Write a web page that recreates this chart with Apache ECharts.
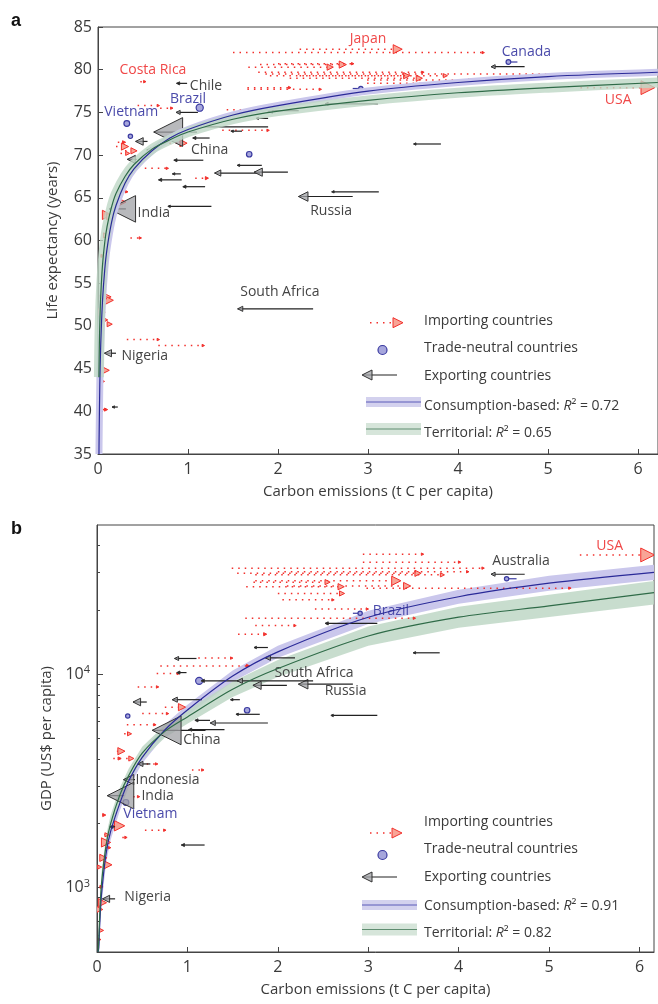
<!DOCTYPE html>
<html>
<head>
<meta charset="utf-8">
<script src="https://cdn.jsdelivr.net/npm/echarts@6/dist/echarts.min.js"></script>
<style>
html, body { margin: 0; padding: 0; background: #fff; }
#chart { width: 658px; height: 1004px; }
</style>
</head>
<body>
<div id="chart"></div>
<script>
// panel a: life expectancy; rows are [territorial, consumption, years, population (M)]
const importA = [
    [2.24, 3.33, 82.4, 127], [1.50, 4.28, 82.0, 5], [1.67, 2.58, 80.3, 60], [1.80, 2.72, 80.6, 80],
    [2.00, 2.83, 80.7, 6], [1.78, 3.61, 79.7, 6], [1.86, 5.27, 79.5, 5], [1.91, 3.43, 79.3, 60],
    [2.13, 3.57, 79.0, 60], [2.24, 3.86, 79.3, 26], [2.99, 4.13, 78.8, 6], [2.99, 4.02, 78.4, 6],
    [1.66, 2.47, 77.7, 6], [1.66, 2.13, 77.9, 10], [5.36, 6.11, 77.9, 300],
    [0.47, 0.52, 78.6, 5], [0.44, 0.67, 75.8, 5], [0.69, 0.82, 75.5, 5], [1.43, 1.67, 75.3, 6],
    [1.38, 1.89, 72.9, 6], [0.72, 0.95, 71.4, 80], [0.20, 0.30, 71.0, 80], [0.30, 0.40, 70.5, 59],
    [0.25, 0.33, 70.2, 26], [0.22, 0.29, 71.5, 15], [0.52, 0.77, 68.45, 6], [1.08, 1.21, 67.3, 15],
    [0.30, 0.32, 65.7, 6], [0.22, 0.26, 64.5, 133], [0.07, 0.10, 63.0, 133], [0.09, 0.13, 62.8, 60],
    [0.15, 0.17, 62.3, 6], [0.06, 0.09, 60.6, 41], [0.36, 0.47, 60.3, 6], [0.04, 0.05, 58.2, 15],
    [0.08, 0.10, 57.7, 6], [0.07, 0.10, 53.4, 105], [0.08, 0.12, 53.0, 130], [0.03, 0.06, 53.2, 80],
    [0.02, 0.04, 51.6, 80], [0.05, 0.08, 50.7, 41], [0.10, 0.13, 50.2, 41], [0.02, 0.04, 49.1, 26],
    [0.32, 0.67, 48.4, 6], [0.67, 1.17, 47.7, 6], [0.03, 0.05, 46.1, 6], [0.05, 0.08, 44.8, 105],
    [0.03, 0.05, 43.5, 26], [0.05, 0.09, 40.2, 15]
];
const exportA = [
    [0.99, 0.89, 78.4, 15], [2.23, 1.91, 75.2, 41], [1.11, 0.89, 75.0, 26], [1.89, 1.77, 74.3, 6],
    [1.89, 1.05, 73.3, 26], [1.10, 0.78, 72.7, 1300], [1.24, 1.07, 72.0, 15], [1.60, 1.49, 72.8, 6],
    [1.17, 0.86, 69.4, 15], [1.82, 1.56, 68.8, 6], [1.80, 1.33, 67.9, 60], [2.11, 1.78, 68.0, 105],
    [0.92, 0.84, 67.8, 2], [0.93, 0.69, 67.1, 15], [1.19, 0.96, 66.3, 15], [1.26, 0.79, 64.0, 2],
    [2.83, 2.28, 65.15, 142], [3.12, 2.61, 65.7, 6], [3.81, 3.52, 71.3, 2], [3.11, 2.54, 76.0, 15],
    [4.74, 4.39, 80.35, 26], [0.31, 0.27, 63.7, 1100], [0.20, 0.11, 46.8, 80], [2.39, 1.58, 52.0, 41],
    [0.22, 0.17, 40.5, 6], [0.55, 0.46, 71.6, 90], [0.63, 0.57, 70.6, 40], [0.43, 0.37, 69.5, 100]
];
const neutralA = [
    [4.66, 4.56, 80.9, 33], [2.83, 2.92, 77.8, 20], [1.13, 1.13, 75.55, 190],
    [0.32, 0.32, 73.7, 85], [0.36, 0.36, 72.2, 20], [1.68, 1.68, 70.1, 70]
];
const consCurveA = [
    [0.0107, 35], [0.012, 36.6], [0.02, 43.1], [0.03, 47.7], [0.05, 52.9], [0.075, 56.6], [0.1, 59.0],
    [0.15, 62.1], [0.2, 64.1], [0.3, 66.7], [0.4, 68.4], [0.6, 70.5], [0.8, 72.0], [1, 73.0],
    [1.5, 74.7], [2, 75.8], [3, 77.5], [4, 78.5], [5, 79.2], [6.22, 79.7]
];
const terrCurveA = [
    [0.01, 44.0], [0.015, 47.8], [0.02, 50.2], [0.03, 53.4], [0.05, 57.1], [0.075, 59.8], [0.1, 61.6],
    [0.15, 63.9], [0.2, 65.5], [0.3, 67.5], [0.4, 68.9], [0.6, 70.7], [0.8, 71.8], [1, 72.7],
    [1.5, 74.2], [2, 75.15], [3, 76.4], [4, 77.3], [5, 77.9], [6.22, 78.5]
];
const labelsA = [
    ['Japan', 3.0, 83.6, 'imp'], ['Canada', 4.76, 82.1, 'neu'], ['USA', 5.78, 76.5, 'imp'],
    ['Costa Rica', 0.61, 80.0, 'imp'], ['Chile', 1.2, 78.1, 'exp'], ['Brazil', 1.0, 76.6, 'neu'],
    ['Vietnam', 0.37, 75.05, 'neu'], ['China', 1.24, 70.6, 'exp'], ['India', 0.62, 63.2, 'exp'],
    ['Russia', 2.59, 63.45, 'exp'], ['South Africa', 2.02, 54.0, 'exp'], ['Nigeria', 0.52, 46.5, 'exp']
];

// panel b: GDP per capita; rows are [territorial, consumption, US$, population (M)]
const importB = [
    [5.34, 6.09, 36200, 300], [2.94, 3.60, 36500, 6], [2.94, 4.01, 33500, 6], [1.49, 4.27, 31400, 6],
    [1.55, 3.55, 29700, 60], [1.75, 3.82, 29200, 26], [2.00, 4.10, 30200, 6], [1.75, 3.31, 27400, 133],
    [2.10, 3.43, 25900, 80], [1.73, 2.55, 27000, 41], [1.65, 2.70, 25700, 60], [2.00, 2.71, 23900, 41],
    [2.98, 5.23, 25300, 6], [2.05, 2.61, 22300, 6], [2.41, 2.99, 20200, 6], [1.64, 3.51, 18300, 6],
    [1.75, 2.19, 16900, 6], [1.56, 1.86, 15400, 15], [1.12, 1.49, 11900, 6], [0.70, 1.67, 10940, 15],
    [0.66, 0.90, 10080, 6], [0.45, 0.67, 8720, 6], [0.75, 0.94, 7010, 80], [0.50, 0.78, 6540, 6],
    [0.33, 0.64, 5800, 6], [0.30, 0.36, 5260, 26], [0.22, 0.27, 4360, 80], [0.25, 0.38, 4030, 41],
    [0.18, 0.25, 4030, 15], [0.55, 0.66, 3800, 6], [1.05, 1.17, 3560, 6], [0.40, 0.46, 2670, 6],
    [0.06, 0.08, 2190, 15], [0.18, 0.25, 1950, 165], [0.53, 0.75, 1860, 6], [0.28, 0.32, 1720, 6],
    [0.08, 0.11, 1770, 26], [0.07, 0.10, 1630, 133], [0.10, 0.14, 1540, 6], [0.05, 0.07, 1380, 80],
    [0.09, 0.12, 1280, 105], [0.02, 0.03, 1250, 26], [0.03, 0.05, 1010, 15], [0.04, 0.06, 851, 105],
    [0.02, 0.03, 791, 59], [0.03, 0.05, 631, 26], [0.02, 0.03, 572, 6]
];
const exportB = [
    [4.73, 4.38, 29400, 26], [3.10, 2.54, 17300, 15], [3.79, 3.51, 12600, 2], [3.10, 2.60, 6410, 6],
    [2.83, 2.28, 8980, 142], [2.39, 1.58, 9310, 41], [2.10, 1.77, 8870, 105], [2.19, 1.89, 11930, 41],
    [1.89, 1.75, 13340, 6], [1.10, 0.88, 11850, 26], [0.99, 0.90, 10180, 15], [1.56, 1.17, 9310, 15],
    [1.16, 0.86, 7600, 41], [1.58, 1.49, 7600, 2], [0.55, 0.44, 7410, 90], [1.25, 1.10, 6080, 15],
    [1.89, 1.28, 5910, 41], [1.80, 1.55, 6490, 6], [1.20, 0.77, 5460, 1300], [1.41, 1.03, 5500, 15],
    [0.59, 0.48, 3800, 41], [0.42, 0.35, 3210, 165], [0.30, 0.26, 2700, 1100], [0.20, 0.16, 1930, 15],
    [1.19, 0.95, 1585, 15], [0.20, 0.10, 887, 80]
];
const neutralB = [
    [2.83, 2.91, 19300, 20], [4.64, 4.53, 28000, 20], [1.13, 1.13, 9310, 190],
    [1.66, 1.66, 6780, 70], [0.34, 0.34, 6370, 20], [0.32, 0.32, 2510, 85]
];
const consCurveB = [
    [0.012, 500], [0.02, 525], [0.03, 676], [0.05, 933], [0.1, 1440], [0.15, 1830], [0.25, 2470],
    [0.35, 3160], [0.5, 4080], [0.75, 5480], [1, 6800], [1.5, 9800], [2, 12730], [3, 18480],
    [4, 23070], [5, 26700], [6.16, 30000]
];
const terrCurveB = [
    [0.012, 500], [0.02, 575], [0.03, 740], [0.05, 1050], [0.1, 1580], [0.15, 1990], [0.25, 2700],
    [0.35, 3350], [0.5, 4270], [0.75, 5400], [1, 6310], [1.5, 8500], [2, 10630], [3, 15100],
    [4, 18500], [5, 20900], [6.16, 24100]
];
// half widths of the confidence bands, in decades
const consBandB = [0.06, 0.06, 0.055, 0.05, 0.045, 0.04, 0.035, 0.03, 0.028, 0.026, 0.025, 0.026, 0.028, 0.031, 0.033, 0.035, 0.036];
const terrBandB = [0.06, 0.06, 0.055, 0.05, 0.045, 0.04, 0.035, 0.032, 0.03, 0.03, 0.032, 0.036, 0.04, 0.045, 0.049, 0.052, 0.055];
const labelsB = [
    ['USA', 5.67, 40000, 'imp'], ['Australia', 4.69, 34000, 'exp'], ['Brazil', 3.25, 19800, 'neu'],
    ['South Africa', 2.4, 10100, 'exp'], ['Russia', 2.75, 8320, 'exp'], ['China', 1.16, 4900, 'exp'],
    ['Indonesia', 0.78, 3180, 'exp'], ['India', 0.67, 2700, 'exp'], ['Vietnam', 0.59, 2220, 'neu'],
    ['Nigeria', 0.56, 904, 'exp']
];
const xTicks = [0, 1, 2, 3, 4, 5, 6];
const gdpMinorTicks = [600, 700, 800, 900, 2000, 3000, 4000, 5000, 6000, 7000, 8000, 9000, 20000, 30000, 40000];
const gdpMajorTicks = [1000, 10000];

const FONT = 'Open Sans';
const TXT = '#3a3a3a';
const RED = '#f2302c';
const BLUE = '#2a2a98';
const GREEN = '#2f6b48';
const labelColor = { imp: '#f04848', neu: '#4a4aaa', exp: '#444' };

function markSize(pop) {
    return Math.max(2.4, 0.8 * Math.sqrt(pop));
}

function renderImport(params, api) {
    const y = api.value(2);
    const a = api.coord([api.value(0), y]);
    const b = api.coord([api.value(1), y]);
    const h = markSize(api.value(3)) / 2;
    return {
        type: 'group',
        children: [
            { type: 'line', shape: { x1: a[0], y1: a[1], x2: b[0] - h, y2: b[1] }, style: { stroke: RED, lineWidth: 1.5, lineDash: [1.5, 5] } },
            { type: 'polygon', shape: { points: [[b[0] + h, b[1]], [b[0] - h, b[1] - h], [b[0] - h, b[1] + h]] },
              style: { fill: h > 2 ? '#f8a496' : RED, stroke: RED, lineWidth: 1 } }
        ]
    };
}

function renderExport(params, api) {
    const y = api.value(2);
    const a = api.coord([api.value(0), y]);
    const b = api.coord([api.value(1), y]);
    const h = markSize(api.value(3)) / 2;
    return {
        type: 'group',
        children: [
            { type: 'line', shape: { x1: a[0], y1: a[1], x2: b[0] - h, y2: b[1] }, style: { stroke: '#222', lineWidth: 1.2 } },
            { type: 'polygon', shape: { points: [[b[0] - h, b[1]], [b[0] + h, b[1] - h], [b[0] + h, b[1] + h]] },
              style: { fill: h > 2 ? 'rgba(160,161,166,0.75)' : '#222', stroke: '#333', lineWidth: 1 } }
        ]
    };
}

function renderNeutral(params, api) {
    const y = api.value(2);
    const a = api.coord([api.value(0), y]);
    const b = api.coord([api.value(1), y]);
    const r = (3 + 0.3 * Math.sqrt(api.value(3))) / 2;
    return {
        type: 'group',
        children: [
            { type: 'line', shape: { x1: a[0], y1: a[1], x2: b[0], y2: b[1] }, style: { stroke: '#3a3aa0', lineWidth: 1.2 } },
            { type: 'circle', shape: { cx: b[0], cy: b[1], r: r }, style: { fill: '#a6a6dc', stroke: '#3a3aa0', lineWidth: 1.2 } }
        ]
    };
}

function labelRenderer(list) {
    return function (params, api) {
        const item = list[params.dataIndex];
        const p = api.coord([item[1], item[2]]);
        return {
            type: 'text', x: p[0], y: p[1],
            style: { text: item[0], fill: labelColor[item[3]], fontSize: 14, fontFamily: FONT, align: 'center', verticalAlign: 'middle' }
        };
    };
}

function bandRenderer(curve, half, color) {
    return function (params, api) {
        const up = curve.map((p, i) => api.coord([p[0], p[1] * Math.pow(10, half[i])]));
        const lo = curve.map((p, i) => api.coord([p[0], p[1] / Math.pow(10, half[i])])).reverse();
        return { type: 'polygon', shape: { points: up.concat(lo) }, style: { fill: color } };
    };
}

function markerSeries(data, render, gi) {
    return {
        type: 'custom', xAxisIndex: gi, yAxisIndex: gi, clip: true, silent: true,
        encode: { x: [0, 1], y: 2 }, data: data, renderItem: render
    };
}

function labelSeries(list, gi) {
    return {
        type: 'custom', xAxisIndex: gi, yAxisIndex: gi, silent: true,
        encode: { x: 0, y: 1 }, data: list.map(l => [l[1], l[2]]), renderItem: labelRenderer(list)
    };
}

function curveSeries(data, gi, color, width) {
    return {
        type: 'line', xAxisIndex: gi, yAxisIndex: gi, data: data, showSymbol: false,
        smooth: 0.3, silent: true, lineStyle: { color: color, width: width }
    };
}

function xAxisFor(gi, max) {
    return {
        gridIndex: gi, type: 'value', min: 0, max: max,
        axisLine: { show: true, onZero: false, lineStyle: { color: '#444' } },
        axisTick: { inside: true, length: 5, customValues: xTicks, lineStyle: { color: '#444' } },
        axisLabel: { customValues: xTicks, margin: 7, fontSize: 16, color: TXT, fontFamily: FONT },
        splitLine: { show: false },
        name: 'Carbon emissions (t C per capita)', nameLocation: 'middle', nameGap: 30,
        nameTextStyle: { fontSize: 15, color: TXT, fontFamily: FONT }
    };
}

// legend, drawn in pixels
function legend(rows, sw) {
    const tx = 424;
    const els = [];
    const txt = (y, s) => els.push({
        type: 'text', x: tx, y: y,
        style: { text: s, fill: TXT, fontSize: 14, fontFamily: FONT, verticalAlign: 'middle',
                 rich: { i: { fontStyle: 'italic', fontSize: 14, fontFamily: FONT, fill: TXT } } }
    });
    const ys = rows.sym;
    els.push({ type: 'line', shape: { x1: 370, y1: ys[0], x2: 392, y2: ys[0] }, style: { stroke: RED, lineWidth: 1.5, lineDash: [1.5, 5] } });
    els.push({ type: 'polygon', shape: { points: [[rows.triX + 5, ys[0]], [rows.triX - 5, ys[0] - 5], [rows.triX - 5, ys[0] + 5]] }, style: { fill: '#f8a496', stroke: RED, lineWidth: 1 } });
    els.push({ type: 'circle', shape: { cx: 382.5, cy: ys[1], r: 4.5 }, style: { fill: '#a6a6dc', stroke: '#3a3aa0', lineWidth: 1.2 } });
    els.push({ type: 'line', shape: { x1: 363, y1: ys[2], x2: 397, y2: ys[2] }, style: { stroke: '#222', lineWidth: 1.2 } });
    els.push({ type: 'polygon', shape: { points: [[362, ys[2]], [372, ys[2] - 5], [372, ys[2] + 5]] }, style: { fill: 'rgba(160,161,166,0.75)', stroke: '#333', lineWidth: 1 } });
    els.push({ type: 'rect', shape: { x: sw, y: ys[3] - 5, width: 55, height: 10 }, style: { fill: '#d3d1ee' } });
    els.push({ type: 'line', shape: { x1: sw, y1: ys[3], x2: sw + 55, y2: ys[3] }, style: { stroke: '#5a5ab8', lineWidth: 1 } });
    els.push({ type: 'rect', shape: { x: sw, y: ys[4] - 6, width: 55, height: 12 }, style: { fill: '#d6e5da' } });
    els.push({ type: 'line', shape: { x1: sw, y1: ys[4], x2: sw + 55, y2: ys[4] }, style: { stroke: '#5f8d70', lineWidth: 1 } });
    txt(rows.txt[0], 'Importing countries');
    txt(rows.txt[1], 'Trade-neutral countries');
    txt(rows.txt[2], 'Exporting countries');
    txt(rows.txt[3], 'Consumption-based: {i|R}\u00b2 = ' + rows.r2[0]);
    txt(rows.txt[4], 'Territorial: {i|R}\u00b2 = ' + rows.r2[1]);
    return els;
}

const chart = echarts.init(document.getElementById('chart'), null, { renderer: 'canvas' });

chart.setOption({
    animation: false,
    backgroundColor: '#fff',
    grid: [
        { left: 98, top: 27, width: 560, height: 427, show: true, borderColor: '#444', borderWidth: 1 },
        { left: 97, top: 525, width: 557, height: 427, show: true, borderColor: '#444', borderWidth: 1 }
    ],
    xAxis: [xAxisFor(0, 6.222), xAxisFor(1, 6.16)],
    yAxis: [
        {
            gridIndex: 0, type: 'value', min: 35, max: 85, interval: 5,
            axisLine: { show: true, lineStyle: { color: '#444' } },
            axisTick: { inside: true, length: 5, lineStyle: { color: '#444' } },
            axisLabel: { margin: 6, fontSize: 16, color: TXT, fontFamily: FONT },
            splitLine: { show: false },
            name: 'Life expectancy (years)', nameLocation: 'middle', nameGap: 38, nameRotate: 90,
            nameTextStyle: { fontSize: 15, color: TXT, fontFamily: FONT }
        },
        {
            gridIndex: 1, type: 'log', logBase: 10, min: 500, max: 50000, position: 'left',
            axisLine: { show: true, lineStyle: { color: '#444' } },
            axisTick: { inside: true, length: 3, customValues: gdpMinorTicks, lineStyle: { color: '#444' } },
            axisLabel: { show: false },
            splitLine: { show: false }
        },
        {
            gridIndex: 1, type: 'log', logBase: 10, min: 500, max: 50000, position: 'left',
            axisLine: { show: false },
            axisTick: { inside: true, length: 6, customValues: gdpMajorTicks, lineStyle: { color: '#444' } },
            axisLabel: {
                customValues: gdpMajorTicks, margin: 7,
                formatter: v => '{a|10}{b|' + Math.round(Math.log10(v)) + '}',
                rich: {
                    a: { fontSize: 16, color: TXT, fontFamily: FONT },
                    b: { fontSize: 11, color: TXT, fontFamily: FONT, padding: [0, 0, 8, 0] }
                }
            },
            splitLine: { show: false },
            name: 'GDP (US$ per capita)', nameLocation: 'middle', nameGap: 43, nameRotate: 90,
            nameTextStyle: { fontSize: 15, color: TXT, fontFamily: FONT }
        }
    ],
    graphic: {
        elements: [
            { type: 'text', x: 11, y: 21, style: { text: 'a', fill: '#111', fontSize: 18, fontWeight: 'bold', fontFamily: 'Liberation Sans', verticalAlign: 'middle' } },
            { type: 'text', x: 11, y: 529, style: { text: 'b', fill: '#111', fontSize: 18, fontWeight: 'bold', fontFamily: 'Liberation Sans', verticalAlign: 'middle' } }
        ].concat(
            legend({ sym: [322.7, 350, 375, 402, 429], txt: [321, 348, 376, 406, 433], triX: 398, r2: ['0.72', '0.65'] }, 366),
            legend({ sym: [833, 855, 877, 905, 929.5], txt: [822, 849, 877, 906, 933], triX: 397, r2: ['0.91', '0.82'] }, 362)
        )
    },
    series: [
        // panel a fits: wide strokes for the bands, thin lines on top
        curveSeries(consCurveA, 0, '#cac7ec', 7),
        curveSeries(terrCurveA, 0, 'rgba(190,215,198,0.8)', 10),
        curveSeries(consCurveA, 0, BLUE, 1.2),
        curveSeries(terrCurveA, 0, GREEN, 1.2),
        markerSeries(importA, renderImport, 0),
        markerSeries(neutralA, renderNeutral, 0),
        markerSeries(exportA, renderExport, 0),
        labelSeries(labelsA, 0),

        // panel b fits
        { type: 'custom', xAxisIndex: 1, yAxisIndex: 1, clip: true, silent: true, encode: { x: 0, y: 1 },
          data: [[1, 1000]], renderItem: bandRenderer(consCurveB, consBandB, '#cac7ec') },
        { type: 'custom', xAxisIndex: 1, yAxisIndex: 1, clip: true, silent: true, encode: { x: 0, y: 1 },
          data: [[1, 1000]], renderItem: bandRenderer(terrCurveB, terrBandB, 'rgba(190,215,198,0.85)') },
        curveSeries(consCurveB, 1, BLUE, 1.2),
        curveSeries(terrCurveB, 1, GREEN, 1.2),
        markerSeries(importB, renderImport, 1),
        markerSeries(neutralB, renderNeutral, 1),
        markerSeries(exportB, renderExport, 1),
        labelSeries(labelsB, 1)
    ]
});
</script>
</body>
</html>
